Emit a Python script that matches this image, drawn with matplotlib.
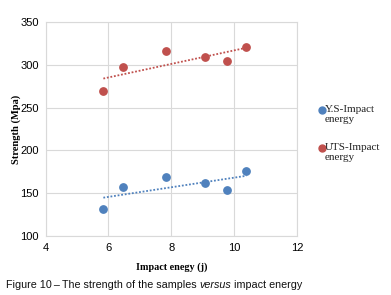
import numpy as np
import matplotlib
matplotlib.use("Agg")
import matplotlib.pyplot as plt
from matplotlib.lines import Line2D

# datos
energia = [5.84, 6.47, 7.84, 9.07, 9.77, 10.39]
ys = [131.5, 157.6, 169.3, 161.9, 153.4, 175.6]
uts = [269.0, 297.5, 316.0, 309.0, 304.5, 321.0]
series = ["Y.S-Impact\nenergy", "UTS-Impact\nenergy"]

azul = "#4F81BD"
rojo = "#C0504D"

W, H = 391, 295
fig = plt.figure(figsize=(W / 100, H / 100), dpi=100)
ax = fig.add_axes([0.1164, 0.2, 0.6432, 0.7254])

ax.scatter(energia, ys, s=28, color=azul, zorder=3)
ax.scatter(energia, uts, s=28, color=rojo, zorder=3)

# lineas de tendencia (ajuste lineal)
xs = np.array([min(energia), max(energia)])
for datos, col in [(ys, azul), (uts, rojo)]:
    m, b = np.polyfit(energia, datos, 1)
    ax.plot(xs, m * xs + b, linestyle=(0, (1, 1)), color=col, linewidth=1.3, zorder=2)

ax.set_xlim(4, 12)
ax.set_ylim(100, 350)
ax.set_xticks([4, 6, 8, 10, 12])
ax.set_yticks([100, 150, 200, 250, 300, 350])
ax.grid(color="#d9d9d9", linewidth=0.8)
ax.set_axisbelow(True)
for s in ax.spines.values():
    s.set_color("#d9d9d9")
    s.set_linewidth(0.8)
ax.tick_params(length=0, labelsize=8, pad=5)
for lab in ax.get_xticklabels() + ax.get_yticklabels():
    lab.set_family("Liberation Sans")

ax.set_xlabel("Impact enegy (j)", family="Liberation Serif", fontweight="bold", fontsize=7.3, labelpad=7)
ax.set_ylabel("Strength (Mpa)", family="Liberation Serif", fontweight="bold", fontsize=7.6)
ax.yaxis.set_label_coords(-0.098, 0.5)

# leyenda hecha a mano (marcador alineado con la primera linea)
for i, (nombre, col) in enumerate(zip(series, [azul, rojo])):
    yl = 110 + 38 * i
    fig.add_artist(Line2D([321.5 / W], [1 - yl / H], marker="o", markersize=5,
                          color=col, linestyle="none", transform=fig.transFigure))
    fig.text(325 / W, 1 - (yl - 5) / H, nombre, family="Liberation Serif", fontsize=8,
             va="top", ha="left", linespacing=1.1, color="#222222")

# pie de figura con "versus" en cursiva
partes = [("Figure 10\u2009\u2013\u2009The strength of the samples ", "normal"),
          ("versus", "italic"),
          (" impact energy", "normal")]
fig.canvas.draw()
r = fig.canvas.get_renderer()
x = 6
for txt, estilo in partes:
    t = fig.text(x / W, 1 - 284.5 / H, txt, family="Liberation Sans", style=estilo,
                 fontsize=7.75, va="center", ha="left", color="#111111")
    bb = t.get_window_extent(renderer=r)
    x += bb.width

fig.savefig("out.png", dpi=100)
